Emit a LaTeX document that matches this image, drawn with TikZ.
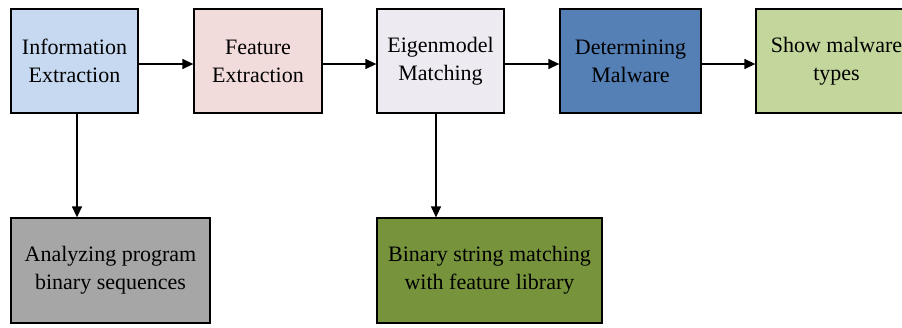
\documentclass[tikz,border=0pt]{standalone}
\usepackage{fontspec}
\setmainfont{Liberation Serif}
\usetikzlibrary{arrows.meta}
\definecolor{infoblue}{HTML}{C6D9F0}
\definecolor{featpink}{HTML}{F2DCDB}
\definecolor{eigenlav}{HTML}{EDEAF2}
\definecolor{detblue}{HTML}{5580B6}
\definecolor{showgreen}{HTML}{C3D69B}
\definecolor{anagray}{HTML}{A6A6A6}
\definecolor{bingreen}{HTML}{77933C}
\tikzset{
  box/.style={draw=black, line width=1.3pt, align=center, inner sep=0pt,
    minimum height=104pt, font=\fontsize{22}{28}\selectfont},
  arr/.style={-{Triangle[length=11pt,width=10pt]}, line width=1.3pt}
}
\begin{document}
\begin{tikzpicture}[x=1pt,y=-1pt]
\useasboundingbox (0,0) rectangle (902,327);
\node[box, fill=infoblue, minimum width=127pt] (info) at (74.5,61) {Information\\Extraction};
\node[box, fill=featpink, minimum width=128pt] (feat) at (258,61) {Feature\\Extraction};
\node[box, fill=eigenlav, minimum width=127pt] (eigen) at (440.5,61) {Eigenmodel\\Matching};
\node[box, fill=detblue, minimum width=141pt] (det) at (630.5,61) {Determining\\Malware};
\node[box, fill=showgreen, minimum width=161pt] (show) at (836.5,61) {Show malware\\types};
\node[box, fill=anagray, minimum width=199pt, minimum height=105pt] (ana) at (110.5,270.5) {Analyzing program\\binary sequences};
\node[box, fill=bingreen, minimum width=225pt, minimum height=105pt] (bin) at (489.5,270.5) {Binary string matching\\with feature library};
\draw[arr] ([yshift=-3pt]info.east) -- ([yshift=-3pt]feat.west);
\draw[arr] ([yshift=-3pt]feat.east) -- ([yshift=-3pt]eigen.west);
\draw[arr] ([yshift=-3pt]eigen.east) -- ([yshift=-3pt]det.west);
\draw[arr] ([yshift=-3pt]det.east) -- ([yshift=-3pt]show.west);
\draw[arr] ([xshift=2.5pt]info.south) -- ([xshift=2.5pt]info.south |- ana.north);
\draw[arr] ([xshift=-4.5pt]eigen.south) -- ([xshift=-4.5pt]eigen.south |- bin.north);
\end{tikzpicture}
\end{document}
